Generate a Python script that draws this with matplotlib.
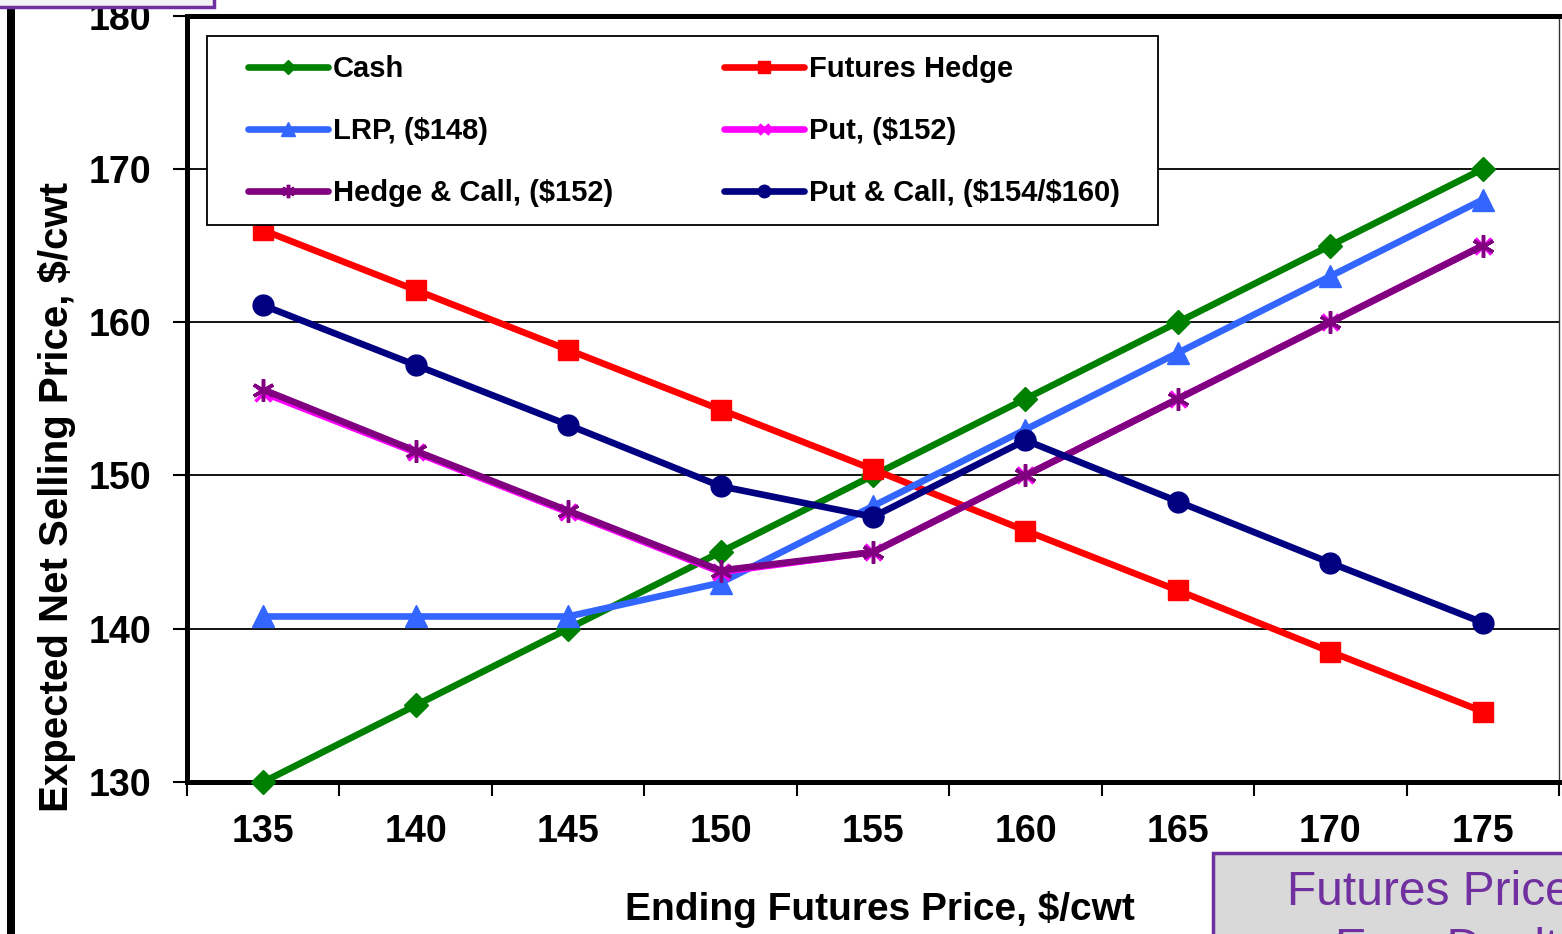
import matplotlib
matplotlib.use("Agg")
import matplotlib.pyplot as plt
from matplotlib.patches import Rectangle

plt.rcParams['font.family'] = ['Liberation Sans', 'DejaVu Sans']

# Ending futures price categories ($/cwt)
prices = [135, 140, 145, 150, 155, 160, 165, 170, 175]

# Expected net selling price for each marketing strategy ($/cwt)
cash = [130, 135, 140, 145, 150, 155, 160, 165, 170]
futures_hedge = [166.0, 162.1, 158.2, 154.3, 150.4, 146.4, 142.5, 138.5, 134.6]
lrp = [140.8, 140.8, 140.8, 143.0, 148.0, 153.0, 158.0, 163.0, 168.0]
put = [155.4, 151.5, 147.6, 143.7, 145.0, 150.0, 155.0, 160.0, 165.0]
hedge_call = [155.6, 151.6, 147.7, 143.8, 145.0, 150.0, 155.0, 160.0, 165.0]
put_call = [161.1, 157.2, 153.3, 149.3, 147.3, 152.3, 148.3, 144.3, 140.4]

y_ticks = [130, 140, 150, 160, 170, 180]

fig = plt.figure(figsize=(15.62, 9.34), dpi=100)
W, H = 1562, 934

def fx(px):
    return px / W

def fy(py):
    return 1 - py / H

ax = fig.add_axes([fx(187), fy(782), fx(1559 - 187), (782 - 15.7) / H])

xs = list(range(len(prices)))
lw = 4.8
series = [
    (cash, 'Cash', '#008000', 'D', 12.5),
    (futures_hedge, 'Futures Hedge', '#FF0000', 's', 15),
    (lrp, r'LRP, (\$148)', '#3366FF', '^', 16),
    (put, r'Put, (\$152)', '#FF00FF', 'x', 12),
    (hedge_call, r'Hedge & Call, (\$152)', '#800080', (6, 2, 0), 16),
    (put_call, r'Put & Call, (\$154/\$160)', '#000080', 'o', 15),
]
handles = {}
for vals, label, color, marker, ms in series:
    kw = dict(color=color, lw=lw, marker=marker, markersize=ms,
              markerfacecolor=color, markeredgecolor=color, label=label,
              solid_capstyle='round', clip_on=False, zorder=3)
    if marker == 'x' or isinstance(marker, tuple):
        kw['markeredgewidth'] = 2.5
    h, = ax.plot(xs, vals, **kw)
    handles[label] = h

ax.set_xlim(-0.5, len(prices) - 0.5)
ax.set_ylim(130, 180)

# category axis: tick marks between categories, labels centred
ax.set_xticks([i - 0.5 for i in range(len(prices) + 1)])
ax.set_xticklabels([])
ax.set_xticks(xs, minor=True)
ax.set_xticklabels([str(p) for p in prices], minor=True)
ax.tick_params(axis='x', which='major', direction='out', length=10, width=1.5, color='black')
ax.tick_params(axis='x', which='minor', length=0, pad=23, labelsize=27)
ax.set_yticks(y_ticks)
ax.tick_params(axis='y', direction='out', length=10, width=1.5, pad=16, labelsize=27)
for t in ax.get_xticklabels(minor=True) + ax.get_yticklabels():
    t.set_fontweight('bold')

ax.yaxis.grid(True, color='black', lw=1.3)
ax.set_axisbelow(True)

for side in ('left', 'bottom', 'top'):
    ax.spines[side].set_linewidth(3.6)
ax.spines['right'].set_linewidth(1.0)
ax.spines['right'].set_color('#333333')

fig.text(fx(880), fy(910), 'Ending Futures Price, $/cwt', fontsize=28,
         fontweight='bold', ha='center', va='center')
fig.text(fx(57), fy(497), 'Expected Net Selling Price, $/cwt', fontsize=29,
         fontweight='bold', ha='center', va='center', rotation=90)

# legend laid out row by row (matplotlib fills columns first)
order = ['Cash', r'LRP, (\$148)', r'Hedge & Call, (\$152)',
         'Futures Hedge', r'Put, (\$152)', r'Put & Call, (\$154/\$160)']
ax.add_artist(Rectangle((fx(207), fy(225)), fx(1158 - 207), (225 - 36) / H,
                        transform=fig.transFigure, facecolor='white',
                        edgecolor='black', lw=1.3, zorder=4, clip_on=False))
leg = ax.legend(handles=[handles[k] for k in order], ncol=2, loc='upper left',
                bbox_to_anchor=(fx(248), fy(55)), bbox_transform=fig.transFigure,
                prop={'weight': 'bold', 'size': 21},
                frameon=False, handlelength=2.75, handletextpad=0.17,
                columnspacing=3.8, labelspacing=1.17, borderpad=0,
                borderaxespad=0, markerscale=0.6)
leg.set_zorder(5)

# slide decorations around the chart
fig.add_artist(Rectangle((fx(7), 0), fx(8), 1, transform=fig.transFigure,
                         facecolor='black', edgecolor='none'))
fig.add_artist(Rectangle((fx(-5), fy(7)), fx(219), 0.1, transform=fig.transFigure,
                         facecolor='#F2F2F2', edgecolor='#7030A0', lw=2.5))
fig.add_artist(Rectangle((fx(1213), fy(990)), fx(400), (990 - 853) / H,
                         transform=fig.transFigure, facecolor='#D9D9D9',
                         edgecolor='#7030A0', lw=2.5))
fig.text(fx(1287), fy(905), 'Futures Price', color='#7030A0', fontsize=34.5,
         ha='left', va='baseline')
fig.text(fx(1335), fy(962), 'Ever Dealt', color='#7030A0', fontsize=34.5,
         ha='left', va='baseline')

fig.savefig('out.png', dpi=100)
